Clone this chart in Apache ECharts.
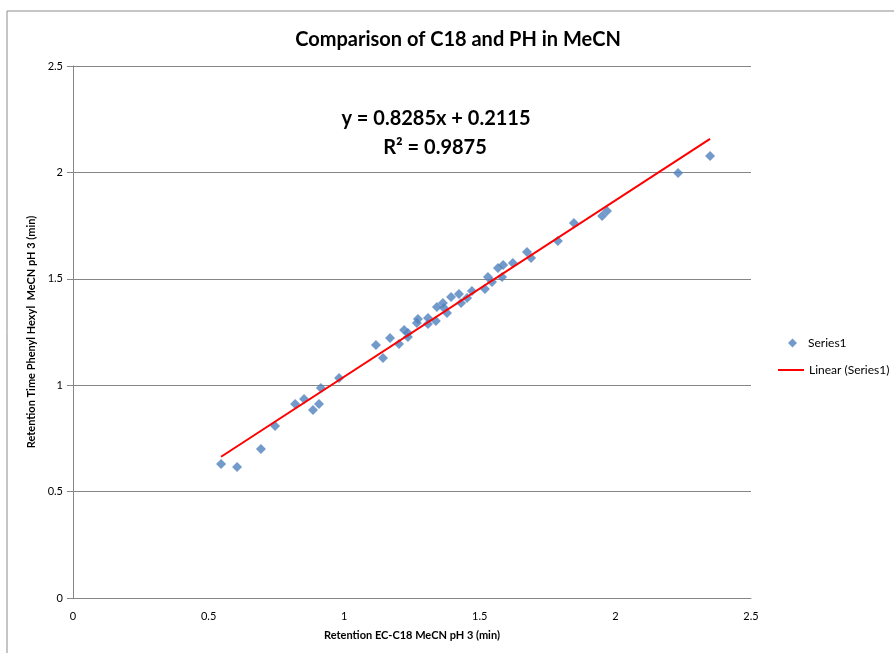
<!DOCTYPE html>
<html>
<head>
<meta charset="utf-8">
<script src="https://cdn.jsdelivr.net/npm/echarts@6/dist/echarts.min.js"></script>
<style>
html,body{margin:0;padding:0;background:#fff;}
#chart{width:894px;height:653px;}
</style>
</head>
<body>
<div id="chart"></div>
<script>
// Retention on EC-C18 (x) vs Phenyl Hexyl (y), MeCN pH 3
const c18Times = [0.546,0.605,0.693,0.745,0.819,0.852,0.885,0.907,0.914,0.981,
  1.117,1.143,1.169,1.202,1.221,1.235,1.235,1.272,1.268,1.309,1.309,1.338,1.342,
  1.364,1.368,1.379,1.394,1.423,1.431,1.453,1.471,1.519,1.530,1.545,1.567,1.586,
  1.582,1.622,1.674,1.689,1.788,1.847,1.951,1.969,2.231,2.349];
const phTimes = [0.630,0.616,0.700,0.808,0.912,0.935,0.883,0.912,0.987,1.034,
  1.189,1.128,1.222,1.194,1.259,1.245,1.226,1.311,1.292,1.288,1.316,1.302,1.367,
  1.386,1.363,1.339,1.414,1.429,1.386,1.410,1.443,1.452,1.508,1.485,1.551,1.565,
  1.508,1.574,1.626,1.598,1.678,1.762,1.795,1.819,1.997,2.077];
const slope = 0.8285;
const intercept = 0.2115;
const rSquared = '0.9875';
const xTicks = [0, 0.5, 1, 1.5, 2, 2.5];
const yTicks = [0, 0.5, 1, 1.5, 2, 2.5];

const scatterData = c18Times.map((x, i) => [x, phTimes[i]]);
const xMin = Math.min(...c18Times), xMax = Math.max(...c18Times);
const trendData = [[xMin, slope * xMin + intercept], [xMax, slope * xMax + intercept]];

const FONT = 'Lato';
const chart = echarts.init(document.getElementById('chart'));
chart.setOption({
  animation: false,
  backgroundColor: '#ffffff',
  title: {
    text: 'Comparison of C18 and PH in MeCN',
    left: 453, top: 25, textAlign: 'center',
    textStyle: { fontFamily: FONT, fontWeight: 'bold', fontSize: 20, color: '#000' }
  },
  graphic: [
    { type: 'rect', shape: { x: 7, y: 11, width: 1000, height: 1000 },
      style: { fill: 'none', stroke: '#8c8c8c', lineWidth: 1 }, silent: true, z: -1 },
    { type: 'text', x: 436, y: 119, style: {
        text: 'y = ' + slope + 'x + ' + intercept, align: 'center', verticalAlign: 'middle',
        font: 'bold 20px Lato', fill: '#000' } },
    { type: 'text', x: 435, y: 148, style: {
        text: 'R² = ' + rSquared, align: 'center', verticalAlign: 'middle',
        font: 'bold 20px Lato', fill: '#000' } }
  ],
  grid: { left: 73, right: 143, top: 66, bottom: 55, containLabel: false },
  xAxis: {
    type: 'value', min: xTicks[0], max: xTicks[xTicks.length - 1], interval: 0.5,
    name: 'Retention EC-C18 MeCN pH 3 (min)', nameLocation: 'middle', nameGap: 32,
    nameTextStyle: { fontFamily: FONT, fontWeight: 'bold', fontSize: 11, color: '#000' },
    axisLine: { show: true, lineStyle: { color: '#868686', width: 1 } },
    axisTick: { show: false },
    splitLine: { show: false },
    axisLabel: { fontFamily: FONT, fontSize: 11, color: '#000', margin: 13 }
  },
  yAxis: {
    type: 'value', min: yTicks[0], max: yTicks[yTicks.length - 1], interval: 0.5,
    name: 'Retention Time Phenyl Hexyl  MeCN pH 3 (min)', nameLocation: 'middle', nameGap: 32,
    nameTextStyle: { fontFamily: FONT, fontWeight: 'bold', fontSize: 11, color: '#000' },
    axisLine: { show: true, lineStyle: { color: '#868686', width: 1 } },
    axisTick: { show: true, inside: false, length: 6, lineStyle: { color: '#868686' } },
    splitLine: { show: true, lineStyle: { color: '#868686', width: 1 } },
    axisLabel: { fontFamily: FONT, fontSize: 11, color: '#000', margin: 10 }
  },
  legend: [
    { data: [{ name: 'Series1', icon: 'diamond' }], orient: 'vertical',
      left: 783, top: 332, itemWidth: 9, itemHeight: 9,
      textStyle: { fontFamily: FONT, fontSize: 12, color: '#000', padding: [0, 0, 0, 6] } },
    { data: [{ name: 'Linear (Series1)', icon: 'rect' }], orient: 'vertical',
      left: 773, top: 359, itemWidth: 26, itemHeight: 2,
      textStyle: { fontFamily: FONT, fontSize: 12, color: '#000' } }
  ],
  series: [
    { name: 'Series1', type: 'scatter', data: scatterData,
      symbol: 'diamond', symbolSize: 10,
      itemStyle: { color: '#4F81BD' }, z: 3 },
    { name: 'Linear (Series1)', type: 'line', data: trendData,
      showSymbol: false, symbol: 'none',
      lineStyle: { color: '#FF0000', width: 2 }, itemStyle: { color: '#FF0000' }, z: 4 }
  ]
});
</script>
</body>
</html>
